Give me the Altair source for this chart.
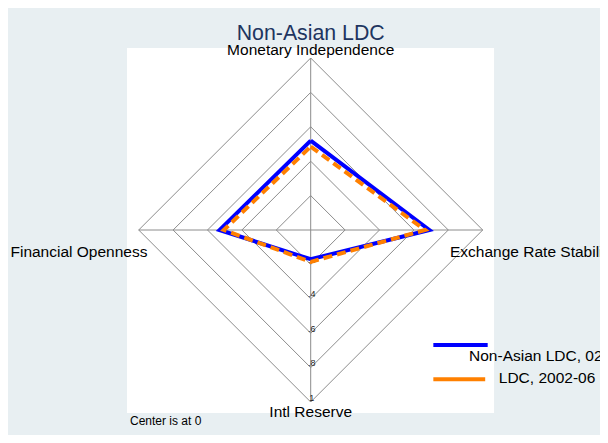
import altair as alt
import pandas as pd

# ---- data ----
axes_names = ["Monetary Independence", "Exchange Rate Stability", "Intl Reserve", "Financial Openness"]
series_names = ["Non-Asian LDC, 02-06", "LDC, 2002-06"]
non_asian = [0.52, 0.69, 0.17, 0.53]
ldc = [0.485, 0.665, 0.185, 0.505]
rings = [0.2, 0.4, 0.6, 0.8, 1.0]
ring_labels = [".2", ".4", ".6", ".8", "1"]
title_text = "Non-Asian LDC"
note_text = "Center is at 0"

# ---- layout (pixels inside the svg) ----
W, H = 592, 427
CX, CY, R = 302.7, 222.0, 172.0
xdom = [-CX / R, (W - CX) / R]
ydom = [-(H - CY) / R, CY / R]
FONT = "Arial"
LBL = 15.5

# direction of each spoke: top, right, bottom, left
dirs = [(0, 1), (1, 0), (0, -1), (-1, 0)]


def poly(values, key, name):
    rows = []
    for i in range(5):
        v = values[i % 4]
        dx, dy = dirs[i % 4]
        rows.append({"x": dx * v, "y": dy * v, "o": i, key: name})
    return rows


ring_rows = []
for r in rings:
    ring_rows += poly([r] * 4, "ring", str(r))
ring_df = pd.DataFrame(ring_rows)

series_df_blue = pd.DataFrame(poly(non_asian, "s", series_names[0]))
series_df_orng = pd.DataFrame(poly(ldc, "s", series_names[1]))

X = lambda f="x": alt.X(f"{f}:Q", scale=alt.Scale(domain=xdom, nice=False, zero=False), axis=None)
Y = lambda f="y": alt.Y(f"{f}:Q", scale=alt.Scale(domain=ydom, nice=False, zero=False), axis=None)

# white plot region
plot_bg = alt.Chart(pd.DataFrame({"x": [-1.068], "x2": [1.066], "y": [-1.064], "y2": [1.058]})).mark_rect(
    color="white"
).encode(x=X(), x2="x2:Q", y=Y(), y2="y2:Q")

rings_layer = alt.Chart(ring_df).mark_line(color="#8c8c8c", strokeWidth=1).encode(
    x=X(), y=Y(), order="o:Q", detail="ring:N"
)

spoke_df = pd.DataFrame({"x": [0, -1], "x2": [0, 1], "y": [-1, 0], "y2": [1, 0]})
spokes = alt.Chart(spoke_df).mark_rule(color="#8c8c8c", strokeWidth=1).encode(
    x=X(), x2="x2:Q", y=Y(), y2="y2:Q"
)

tick_df = pd.DataFrame({"x": [0.0] * 5, "y": [-r for r in rings], "t": ring_labels})
ticks = alt.Chart(tick_df).mark_text(
    font=FONT, fontSize=9, color="#222222", baseline="alphabetic", align="center", dx=1, dy=-1.5
).encode(x=X(), y=Y(), text="t:N")

blue = alt.Chart(series_df_blue).mark_line(color="#0000ff", strokeWidth=4, strokeJoin="miter").encode(
    x=X(), y=Y(), order="o:Q"
)
orange = alt.Chart(series_df_orng).mark_line(
    color="#ff8000", strokeWidth=4, strokeDash=[9, 5], strokeJoin="miter"
).encode(x=X(), y=Y(), order="o:Q")

# axis labels
lab_df = pd.DataFrame({
    "x": [0.0, 0.81, 0.0],
    "y": [1.0203, -0.159, -1.0855],
    "t": [axes_names[0], axes_names[1], axes_names[2]],
    "a": ["center", "left", "center"],
})
labels_c = alt.Chart(lab_df[lab_df.a == "center"]).mark_text(
    font=FONT, fontSize=LBL, color="black", baseline="alphabetic", align="center"
).encode(x=X(), y=Y(), text="t:N")
labels_l = alt.Chart(lab_df[lab_df.a == "left"]).mark_text(
    font=FONT, fontSize=LBL, color="black", baseline="alphabetic", align="left"
).encode(x=X(), y=Y(), text="t:N")
labels_r = alt.Chart(pd.DataFrame({"x": [-0.949], "y": [-0.159], "t": [axes_names[3]]})).mark_text(
    font=FONT, fontSize=LBL, color="black", baseline="alphabetic", align="right"
).encode(x=X(), y=Y(), text="t:N")

title = alt.Chart(pd.DataFrame({"x": [0.0], "y": [1.1047], "t": [title_text]})).mark_text(
    font=FONT, fontSize=21.3, color="#1e3560", baseline="alphabetic", align="center"
).encode(x=X(), y=Y(), text="t:N")

note = alt.Chart(pd.DataFrame({"x": [-1.0506], "y": [-1.1355], "t": [note_text]})).mark_text(
    font=FONT, fontSize=12, color="black", baseline="alphabetic", align="left"
).encode(x=X(), y=Y(), text="t:N")

# legend
leg_df = pd.DataFrame({
    "x": [0.713, 0.713], "x2": [1.029, 1.0145], "y": [-0.6686, -0.868],
    "s": series_names,
})
leg_lines = alt.Chart(leg_df).mark_rule(strokeWidth=4).encode(
    x=X(), x2="x2:Q", y=Y(),
    color=alt.Color("s:N", scale=alt.Scale(domain=series_names, range=["#0000ff", "#ff8000"]), legend=None),
)
leg_txt = alt.Chart(pd.DataFrame({"x": [1.374, 1.374], "y": [-0.759, -0.891], "t": series_names})).mark_text(
    font=FONT, fontSize=LBL, color="black", baseline="alphabetic", align="center"
).encode(x=X(), y=Y(), text="t:N")

chart = alt.layer(
    plot_bg, rings_layer, spokes, ticks, blue, orange,
    labels_c, labels_l, labels_r, title, note, leg_lines, leg_txt,
).properties(
    width=W, height=H, background="#e8eff2", padding=0,
    autosize=alt.AutoSizeParams(type="none"),
).configure_view(stroke=None)

chart.save("out.html", embed_options={"renderer": "svg", "actions": False})
